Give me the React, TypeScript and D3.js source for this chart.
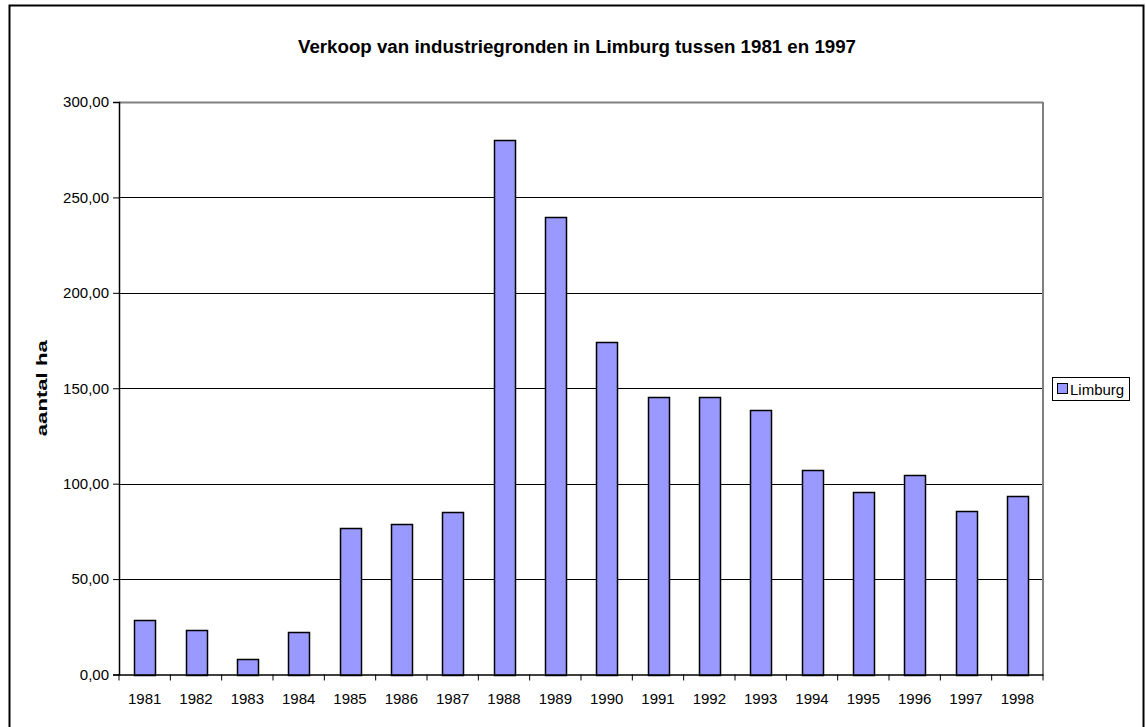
import React, { useEffect, useRef } from "react";
import * as d3 from "d3";

const years = ["1981", "1982", "1983", "1984", "1985", "1986", "1987", "1988", "1989", "1990", "1991", "1992", "1993", "1994", "1995", "1996", "1997", "1998"];
const limburg = [28.6, 23.3, 8.0, 22.4, 76.6, 79.0, 85.3, 280.1, 239.8, 174.1, 145.4, 145.4, 138.6, 107.3, 95.4, 104.8, 85.9, 93.6];
const yTicks = [0, 50, 100, 150, 200, 250, 300];
const seriesName = "Limburg";
const title = "Verkoop van industriegronden in Limburg tussen 1981 en 1997";
const yTitle = "aantal ha";

const W = 1146, H = 727;
const FONT = "Arial, 'Liberation Sans', sans-serif";
const BAR = "#9999FF";

export default function App() {
  const ref = useRef<SVGSVGElement>(null);

  useEffect(() => {
    const svg = d3.select(ref.current);
    svg.selectAll("*").remove();

    const left = 119, right = 1043, top = 102, bottom = 674.5;

    const x = d3.scaleBand().domain(years).range([left, right]).paddingInner(0.6).paddingOuter(0.3);
    const y = d3.scaleLinear().domain([0, 300]).range([bottom, top]);

    svg.append("rect").attr("width", W).attr("height", H).attr("fill", "#fff");
    // outer frame
    svg.append("rect")
      .attr("x", 9.5).attr("y", 5.5).attr("width", 1134).attr("height", 730)
      .attr("fill", "none").attr("stroke", "#000").attr("stroke-width", 2);

    svg.append("text")
      .attr("x", 298).attr("y", 53)
      .attr("textLength", 558).attr("lengthAdjust", "spacingAndGlyphs")
      .attr("font-family", FONT).attr("font-weight", "bold").attr("font-size", 18)
      .text(title);

    // gridlines
    svg.append("g").selectAll("line")
      .data(yTicks.filter(d => d > 0))
      .join("line")
      .attr("x1", left).attr("x2", right)
      .attr("y1", d => Math.round(y(d)) + 0.5).attr("y2", d => Math.round(y(d)) + 0.5)
      .attr("stroke", d => (d === 300 ? "#808080" : "#000"))
      .attr("stroke-width", d => (d === 300 ? 2 : 1));

    // plot right border
    svg.append("line")
      .attr("x1", right).attr("x2", right).attr("y1", top).attr("y2", bottom)
      .attr("stroke", "#808080").attr("stroke-width", 2);

    // bars
    svg.append("g").selectAll("rect")
      .data(limburg)
      .join("rect")
      .attr("x", (d, i) => Math.round(x(years[i])!) + 0.5)
      .attr("y", d => Math.round(y(d)) + 0.5)
      .attr("width", Math.round(x.bandwidth()))
      .attr("height", d => Math.round(y(0)) - Math.round(y(d)))
      .attr("fill", BAR).attr("stroke", "#000").attr("stroke-width", 1.5);

    // y axis
    const yAxis = d3.axisLeft(y).tickValues(yTicks).tickSize(6).tickPadding(4)
      .tickFormat(d => d3.format(".2f")(d as number).replace(".", ","));
    const gy = svg.append("g").attr("transform", `translate(${left},0)`).call(yAxis);
    gy.select(".domain").attr("stroke", "#000").attr("stroke-width", 1.5);
    gy.selectAll(".tick line").attr("stroke", "#000");
    gy.selectAll("text").attr("font-family", FONT).attr("font-size", 15).attr("fill", "#000");

    // x axis with ticks between categories
    const xAxis = d3.axisBottom(x).tickSize(0).tickPadding(19);
    const gx = svg.append("g").attr("transform", `translate(0,${bottom})`).call(xAxis);
    gx.select(".domain").attr("stroke", "#000").attr("stroke-width", 1.5);
    gx.selectAll("text").attr("font-family", FONT).attr("font-size", 15).attr("fill", "#000");
    const step = x.step();
    svg.append("g").selectAll("line")
      .data(d3.range(years.length + 1))
      .join("line")
      .attr("x1", i => left + i * step).attr("x2", i => left + i * step)
      .attr("y1", bottom).attr("y2", bottom + 6)
      .attr("stroke", "#000");

    svg.append("text")
      .attr("transform", `translate(47,${(top + bottom) / 2 + 48}) rotate(-90)`)
      .attr("textLength", 96).attr("lengthAdjust", "spacingAndGlyphs")
      .attr("font-family", FONT).attr("font-weight", "bold").attr("font-size", 14)
      .text(yTitle);

    // legend
    const lg = svg.append("g");
    lg.append("rect").attr("x", 1052.5).attr("y", 377.5).attr("width", 77).attr("height", 23)
      .attr("fill", "#fff").attr("stroke", "#000");
    lg.append("rect").attr("x", 1057.5).attr("y", 383.5).attr("width", 10).attr("height", 10)
      .attr("fill", BAR).attr("stroke", "#000");
    lg.append("text").attr("x", 1070).attr("y", 395)
      .attr("font-family", FONT).attr("font-size", 15)
      .text(seriesName);
  }, []);

  return <svg ref={ref} width={W} height={H} style={{ position: "absolute", left: 0, top: 0 }} />;
}
